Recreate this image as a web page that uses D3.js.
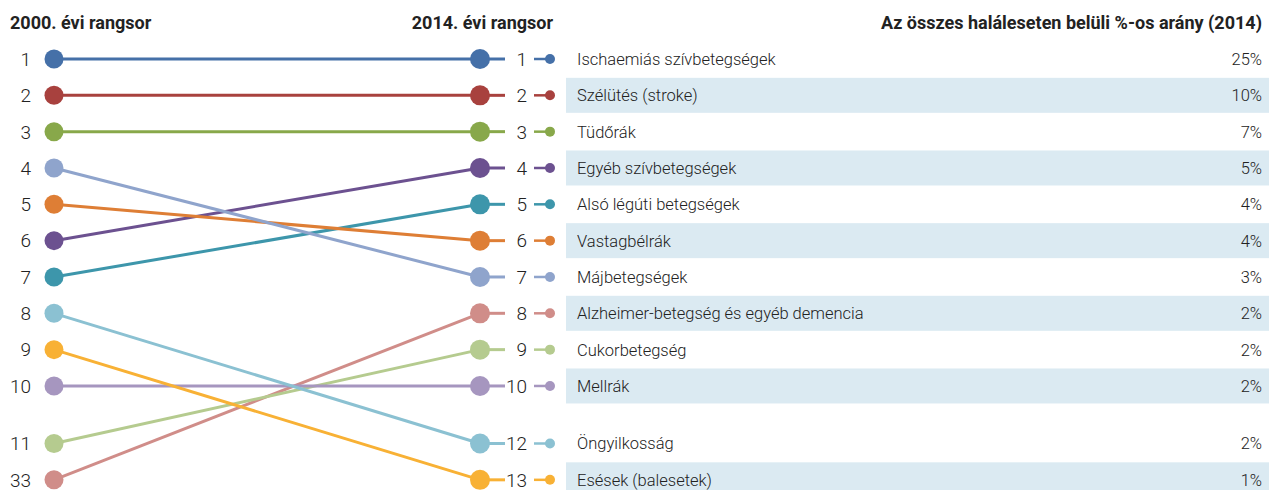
<!DOCTYPE html>
<html>
<head>
<meta charset="utf-8">
<script src="https://cdn.jsdelivr.net/npm/d3@7"></script>
<style>
  body { margin: 0; background: #fff; }
  text { font-family: Roboto, "Noto Sans", sans-serif; fill: #222; }
</style>
</head>
<body>
<div id="chart"></div>
<script>
// data, listed in 2014 order
var causes = [
    "Ischaemiás szívbetegségek",
    "Szélütés (stroke)",
    "Tüdőrák",
    "Egyéb szívbetegségek",
    "Alsó légúti betegségek",
    "Vastagbélrák",
    "Májbetegségek",
    "Alzheimer-betegség és egyéb demencia",
    "Cukorbetegség",
    "Mellrák",
    "Öngyilkosság",
    "Esések (balesetek)"
];
var rank2000 = [1, 2, 3, 6, 7, 5, 4, 33, 11, 10, 8, 9];
var rank2014 = [1, 2, 3, 4, 5, 6, 7, 8, 9, 10, 12, 13];
var share2014 = [25, 10, 7, 5, 4, 4, 3, 2, 2, 2, 2, 1];
var colors = ["#4570a8", "#a8413e", "#88a84a", "#6c5190", "#3d96ab", "#de7e35",
              "#8fa4cc", "#d08d89", "#b5cb8f", "#a696bf", "#8bc1d2", "#f8b135"];

var svgWidth = 1269;
var svgHeight = 490;

var svg = d3.select("#chart")
    .append("svg")
    .attr("width", svgWidth)
    .attr("height", svgHeight);

// row slots: rows 0..9 evenly spaced, last two shifted down by a gap
var rowStep = d3.scaleLinear().domain([0, 1]).range([59, 95.33]);
var gap = 21.2;
function slotY(i) { return rowStep(i) + (i >= 10 ? gap : 0); }

var left2000 = rank2000.slice().sort(d3.ascending);
var right2014 = rank2014.slice().sort(d3.ascending);

var rows = causes.map(function (c, i) {
    return {
        cause: c,
        r2000: rank2000[i],
        r2014: rank2014[i],
        share: share2014[i],
        color: colors[i],
        y0: slotY(left2000.indexOf(rank2000[i])),
        y1: slotY(right2014.indexOf(rank2014[i])),
        idx: i
    };
});

var xL = 54, xR = 480;

// shaded table bands
svg.selectAll("rect.band")
    .data(rows.filter(function (d) { return d.idx % 2 == 1; }))
    .enter()
    .append("rect")
    .attr("class", "band")
    .attr("x", 566)
    .attr("y", function (d) { return d.y1 - 17.5; })
    .attr("width", svgWidth - 566)
    .attr("height", 35)
    .attr("fill", "#dbeaf2");

// headers
svg.append("text").attr("x", 10).attr("y", 29)
    .style("font-weight", "bold").style("font-size", "18px")
    .text("2000. évi rangsor");
svg.append("text").attr("x", 553).attr("y", 29).attr("text-anchor", "end")
    .style("font-weight", "bold").style("font-size", "18px")
    .text("2014. évi rangsor");
svg.append("text").attr("x", 1262).attr("y", 29).attr("text-anchor", "end")
    .style("font-weight", "bold").style("font-size", "18px")
    .text("Az összes haláleseten belüli %-os arány (2014)");

// slope lines
svg.selectAll("line.slope")
    .data(rows)
    .enter()
    .append("line")
    .attr("x1", xL).attr("y1", function (d) { return d.y0; })
    .attr("x2", xR).attr("y2", function (d) { return d.y1; })
    .attr("stroke", function (d) { return d.color; })
    .attr("stroke-width", 3);

// stub after right circle
svg.selectAll("line.stub")
    .data(rows)
    .enter()
    .append("line")
    .attr("x1", xR).attr("x2", 505)
    .attr("y1", function (d) { return d.y1; })
    .attr("y2", function (d) { return d.y1; })
    .attr("stroke", function (d) { return d.color; })
    .attr("stroke-width", 3);

// legend stub + small dot
svg.selectAll("line.leg")
    .data(rows)
    .enter()
    .append("line")
    .attr("x1", 534).attr("x2", 550)
    .attr("y1", function (d) { return d.y1; })
    .attr("y2", function (d) { return d.y1; })
    .attr("stroke", function (d) { return d.color; })
    .attr("stroke-width", 2.5);

svg.selectAll("circle.leg")
    .data(rows)
    .enter()
    .append("circle")
    .attr("cx", 550)
    .attr("cy", function (d) { return d.y1; })
    .attr("r", 5)
    .attr("fill", function (d) { return d.color; });

// big circles
svg.selectAll("circle.left")
    .data(rows)
    .enter()
    .append("circle")
    .attr("cx", xL)
    .attr("cy", function (d) { return d.y0; })
    .attr("r", 9.5)
    .attr("fill", function (d) { return d.color; });

svg.selectAll("circle.right")
    .data(rows)
    .enter()
    .append("circle")
    .attr("cx", xR)
    .attr("cy", function (d) { return d.y1; })
    .attr("r", 10)
    .attr("fill", function (d) { return d.color; });

// rank labels
svg.selectAll("text.r0")
    .data(rows)
    .enter()
    .append("text")
    .attr("x", 31)
    .attr("y", function (d) { return d.y0; })
    .attr("dy", "0.36em")
    .attr("text-anchor", "end")
    .style("font-size", "19px")
    .style("font-weight", 300)
    .text(function (d) { return d.r2000; });

svg.selectAll("text.r1")
    .data(rows)
    .enter()
    .append("text")
    .attr("x", 527)
    .attr("y", function (d) { return d.y1; })
    .attr("dy", "0.36em")
    .attr("text-anchor", "end")
    .style("font-size", "19px")
    .style("font-weight", 300)
    .text(function (d) { return d.r2014; });

// table text
svg.selectAll("text.cause")
    .data(rows)
    .enter()
    .append("text")
    .attr("x", 577)
    .attr("y", function (d) { return d.y1; })
    .attr("dy", "0.36em")
    .style("font-size", "16.5px")
    .style("font-weight", 300)
    .text(function (d) { return d.cause; });

svg.selectAll("text.share")
    .data(rows)
    .enter()
    .append("text")
    .attr("x", 1262)
    .attr("y", function (d) { return d.y1; })
    .attr("dy", "0.36em")
    .attr("text-anchor", "end")
    .style("font-size", "16.5px")
    .style("font-weight", 300)
    .text(function (d) { return d.share + "%"; });
</script>
</body>
</html>
